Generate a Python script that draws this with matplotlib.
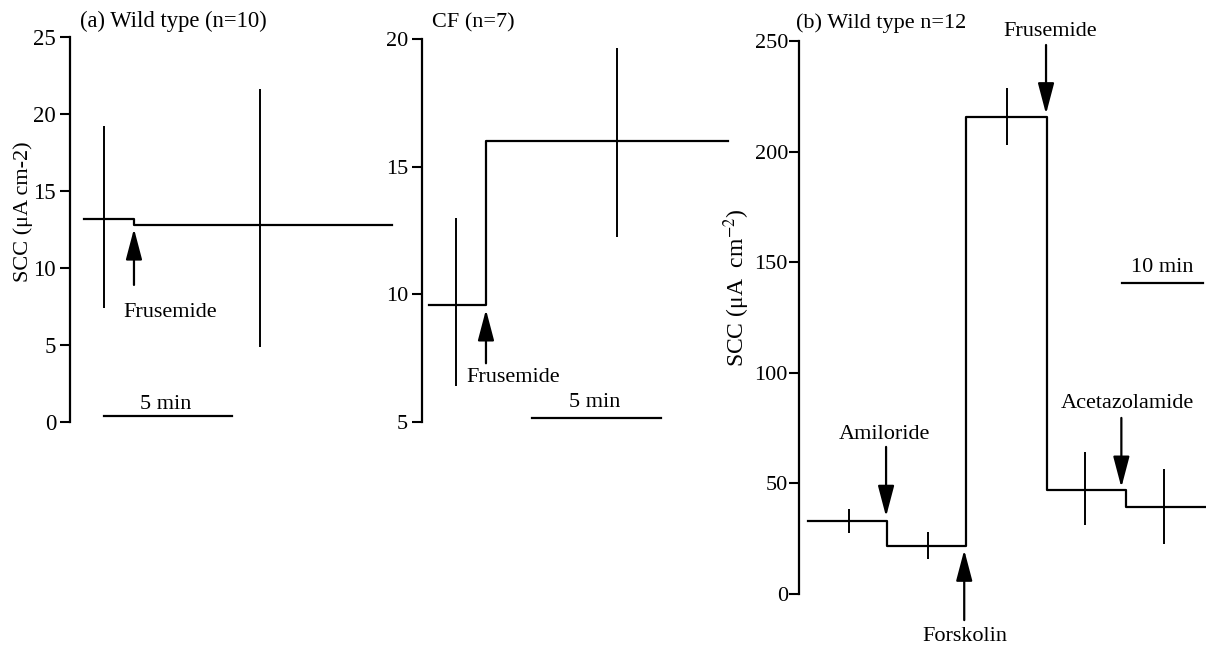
import matplotlib
matplotlib.use("Agg")
import matplotlib.pyplot as plt

plt.rcParams['font.family'] = ['Liberation Serif', 'DejaVu Serif']
plt.rcParams['mathtext.fontset'] = 'stix'

# ---------------- data (x in minutes, y in uA cm-2) ----------------
# Panel (a) wild type
a_step_x = [0.55, 2.5, 12.6]
a_step_y = [13.2, 12.8, 12.8]
a_err_x = [1.33, 7.42]
a_err_lo = [7.4, 4.9]
a_err_hi = [19.2, 21.6]
a_yticks = [0, 5, 10, 15, 20, 25]

# Panel CF
c_step_x = [0.27, 2.48, 11.86]
c_step_y = [9.6, 16.0, 16.0]
c_err_x = [1.32, 7.56]
c_err_lo = [6.4, 12.25]
c_err_hi = [13.0, 19.65]
c_yticks = [5, 10, 15, 20]

# Panel (b) wild type n=12
b_step_x = [1.1, 10.9, 20.6, 30.6, 40.4, 50.1]
b_step_y = [33.0, 21.7, 215.6, 47.0, 39.4, 39.4]
b_err_x = [6.2, 15.9, 25.7, 35.3, 45.1]
b_err_lo = [27.6, 15.8, 203.0, 31.2, 22.6]
b_err_hi = [38.4, 28.0, 228.8, 64.2, 56.5]
b_yticks = [0, 50, 100, 150, 200, 250]

W, H = 1206, 650
fig = plt.figure(figsize=(W / 100, H / 100), dpi=100)


def px_axes(left, top, right, bottom):
    return fig.add_axes([left / W, 1 - bottom / H, (right - left) / W, (bottom - top) / H])


def style(ax, ticks, ticklen=7, pad=3, fs=16):
    for s in ['top', 'right', 'bottom']:
        ax.spines[s].set_visible(False)
    ax.spines['left'].set_linewidth(1.6)
    ax.set_xticks([])
    ax.set_yticks(ticks)
    ax.tick_params(axis='y', direction='out', length=ticklen, width=1.5,
                   pad=pad, labelsize=fs)
    ax.patch.set_alpha(0)


def arrow(ax, x, y_from, y_to):
    ax.annotate('', xy=(x, y_to), xytext=(x, y_from), annotation_clip=False,
                arrowprops=dict(arrowstyle='-|>,head_length=1.9,head_width=0.5',
                                mutation_scale=10, lw=1.6, color='black',
                                shrinkA=0, shrinkB=0))


LW = 1.6
ERR_LW = 1.4

# ---------------- panel (a) ----------------
axa = px_axes(70, 37, 395, 422)
axa.set_xlim(0, 12.7)
axa.set_ylim(0, 25)
style(axa, a_yticks, ticklen=7, pad=3, fs=16.5)
axa.step(a_step_x, a_step_y, where='post', color='black', lw=LW)
axa.vlines(a_err_x, a_err_lo, a_err_hi, color='black', lw=ERR_LW)
arrow(axa, 2.5, 8.9, 12.55)
axa.text(3.9, 7.1, 'Frusemide', ha='center', va='center', fontsize=16)
axa.plot([1.33, 6.33], [0.4, 0.4], color='black', lw=LW, clip_on=False)
axa.text(3.75, 1.15, '5 min', ha='center', va='center', fontsize=16)
fig.text(80 / W, 1 - 21 / H, '(a) Wild type (n=10)', ha='left', va='center', fontsize=16.3)
fig.text(23 / W, 1 - 212 / H, 'SCC (μA cm-2)', ha='center', va='center',
         rotation=90, fontsize=16)

# ---------------- panel CF ----------------
axc = px_axes(422, 39, 730, 422)
axc.set_xlim(0, 11.94)
axc.set_ylim(5, 20)
style(axc, c_yticks, ticklen=7, pad=3, fs=16)
axc.step(c_step_x, c_step_y, where='post', color='black', lw=LW)
axc.vlines(c_err_x, c_err_lo, c_err_hi, color='black', lw=ERR_LW)
arrow(axc, 2.48, 7.3, 9.4)
axc.text(3.55, 6.75, 'Frusemide', ha='center', va='center', fontsize=16)
axc.plot([4.26, 9.26], [5.16, 5.16], color='black', lw=LW, clip_on=False)
axc.text(6.7, 5.75, '5 min', ha='center', va='center', fontsize=16)
fig.text(432 / W, 1 - 23 / H, 'CF (n=7)', ha='left', va='center', fontsize=16)

# ---------------- panel (b) ----------------
axb = px_axes(799, 41, 1206, 594)
axb.set_xlim(0, 50.25)
axb.set_ylim(0, 250)
style(axb, b_yticks, ticklen=7, pad=1, fs=16)
axb.step(b_step_x, b_step_y, where='post', color='black', lw=LW)
axb.vlines(b_err_x, b_err_lo, b_err_hi, color='black', lw=ERR_LW)
arrow(axb, 10.75, 66.5, 35.0)
axb.text(10.6, 72.3, 'Amiloride', ha='center', va='center', fontsize=16)
arrow(axb, 20.4, -11.8, 19.9)
axb.text(20.5, -19.4, 'Forskolin', ha='center', va='center', fontsize=16)
arrow(axb, 30.5, 248.2, 217.0)
axb.text(31.0, 254.5, 'Frusemide', ha='center', va='center', fontsize=16)
arrow(axb, 39.8, 79.6, 48.2)
axb.text(40.6, 86.3, 'Acetazolamide', ha='center', va='center', fontsize=16)
axb.plot([39.9, 49.9], [140.6, 140.6], color='black', lw=LW, clip_on=False)
axb.text(44.9, 147.8, '10 min', ha='center', va='center', fontsize=16)
fig.text(796 / W, 1 - 23 / H, '(b) Wild type n=12', ha='left', va='center', fontsize=16)
fig.text(737 / W, 1 - 288 / H, 'SCC (μA  cm$^{\\mathrm{-2}}$)', ha='center', va='center',
         rotation=90, fontsize=17)

fig.savefig('out.png', dpi=100, facecolor='white')
